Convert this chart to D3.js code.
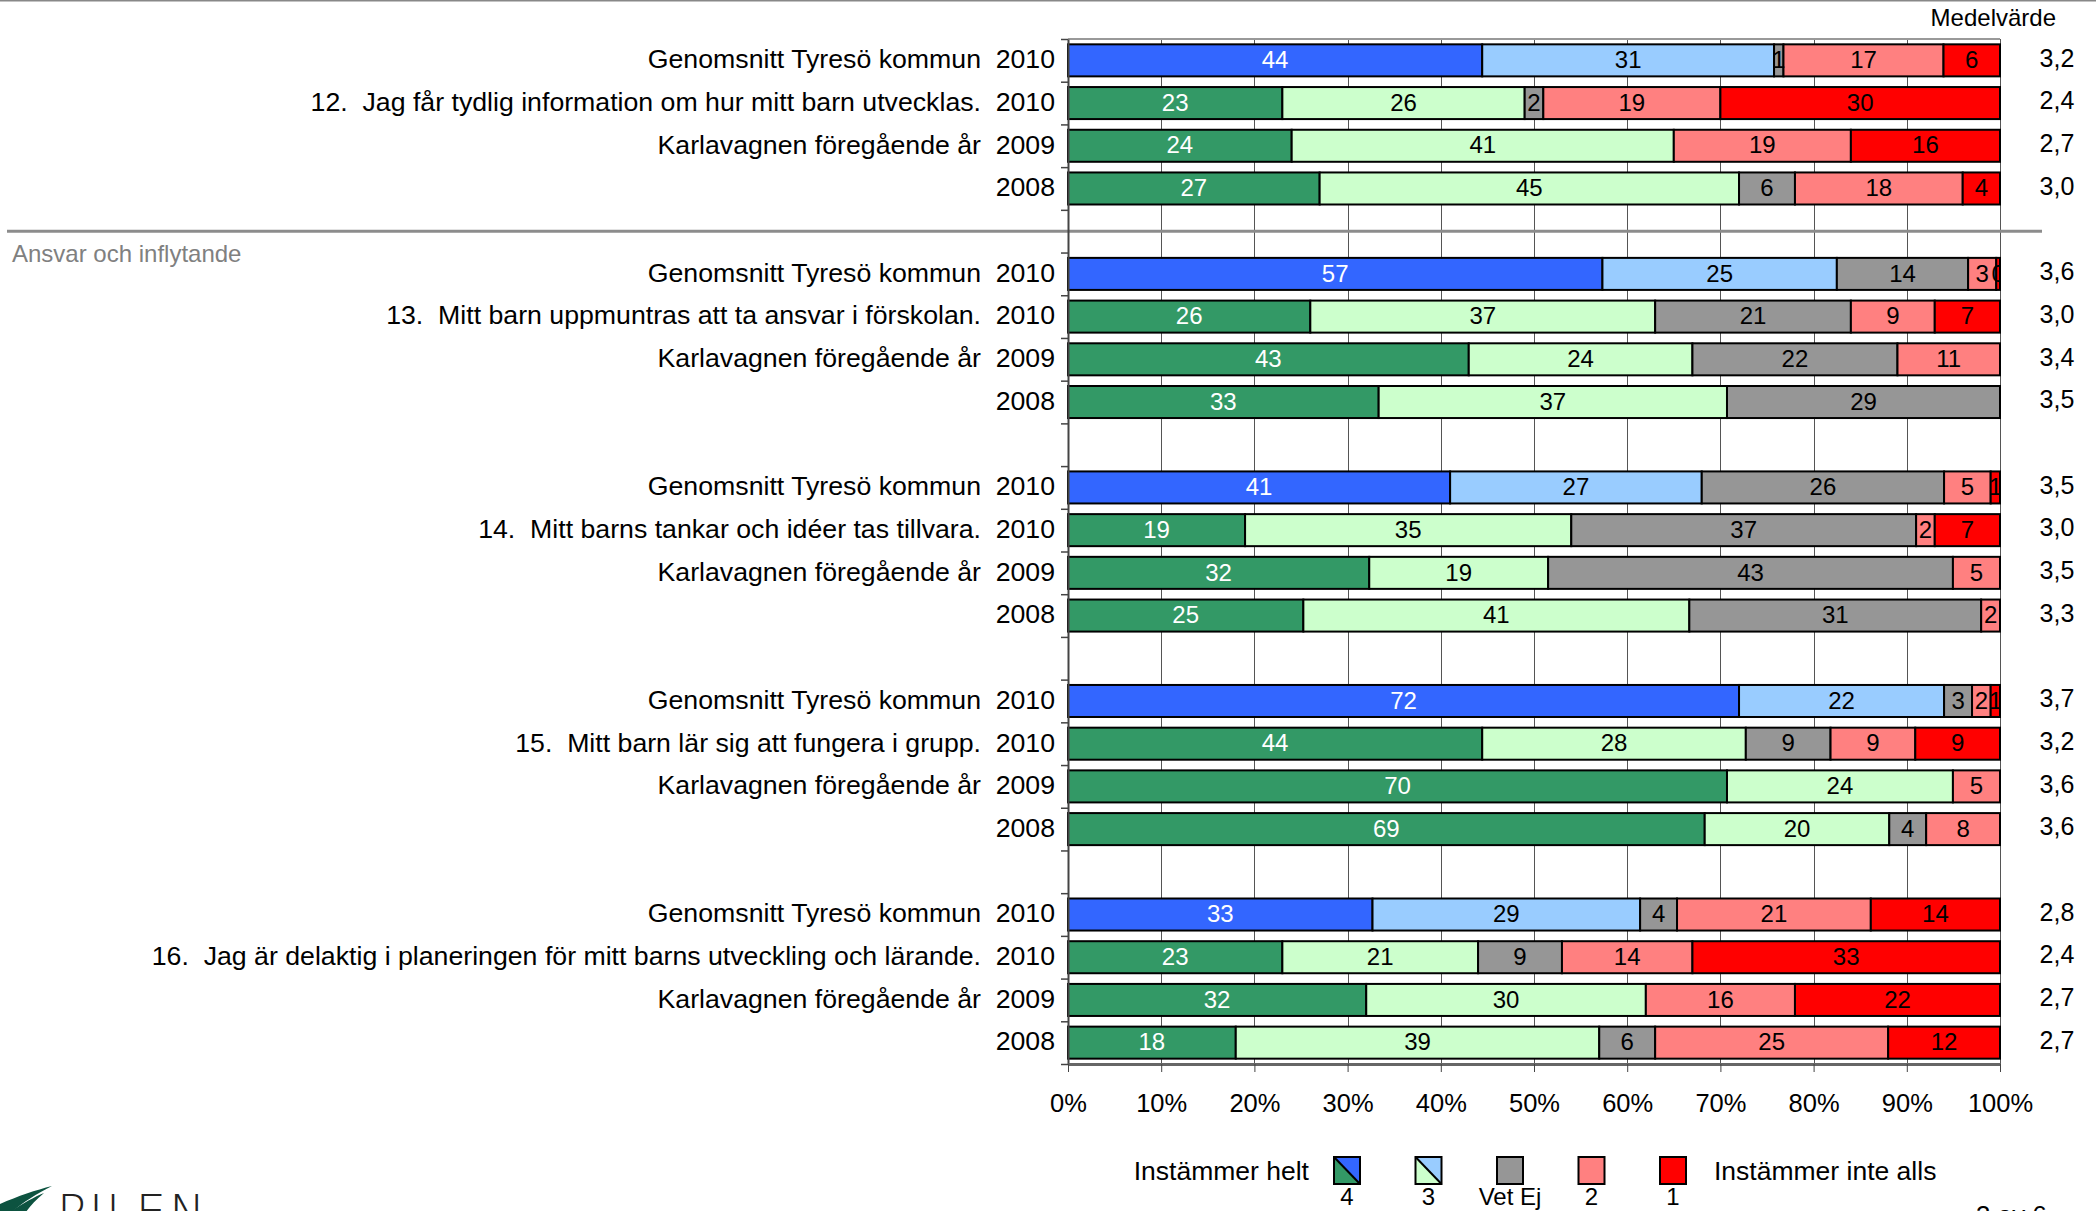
<!DOCTYPE html>
<html>
<head>
<meta charset="utf-8">
<script src="https://cdn.jsdelivr.net/npm/d3@7"></script>
<style>
  body { margin: 0; background: #fff; }
  svg { display: block; font-family: "Liberation Sans", Arial, sans-serif; }
  .keep { white-space: pre; }
</style>
</head>
<body>
<div id="vis"></div>
<script>
// answer order inside every bar: 4, 3, Vet Ej, 2, 1
var answerKeys = ["4", "3", "Vet Ej", "2", "1"];
var rowNames = ["Genomsnitt Tyresö kommun", null, "Karlavagnen föregående år", ""];
var years = ["2010", "2010", "2009", "2008"];
var questions = [
  "12.  Jag får tydlig information om hur mitt barn utvecklas.",
  "13.  Mitt barn uppmuntras att ta ansvar i förskolan.",
  "14.  Mitt barns tankar och idéer tas tillvara.",
  "15.  Mitt barn lär sig att fungera i grupp.",
  "16.  Jag är delaktig i planeringen för mitt barns utveckling och lärande."
];

// percentages per row (Tyresö 2010, förskolan 2010, 2009, 2008)
var q12 = [[44, 31, 1, 17, 6], [23, 26, 2, 19, 30], [24, 41, 0, 19, 16], [27, 45, 6, 18, 4]];
var q13 = [[57, 25, 14, 3, 0.4], [26, 37, 21, 9, 7], [43, 24, 22, 11, 0], [33, 37, 29, 0, 0]];
var q14 = [[41, 27, 26, 5, 1], [19, 35, 37, 2, 7], [32, 19, 43, 5, 0], [25, 41, 31, 2, 0]];
var q15 = [[72, 22, 3, 2, 1], [44, 28, 9, 9, 9], [70, 24, 0, 5, 0], [69, 20, 4, 8, 0]];
var q16 = [[33, 29, 4, 21, 14], [23, 21, 9, 14, 33], [32, 30, 0, 16, 22], [18, 39, 6, 25, 12]];

var m12 = ["3,2", "2,4", "2,7", "3,0"];
var m13 = ["3,6", "3,0", "3,4", "3,5"];
var m14 = ["3,5", "3,0", "3,5", "3,3"];
var m15 = ["3,7", "3,2", "3,6", "3,6"];
var m16 = ["2,8", "2,4", "2,7", "2,7"];

var xTicks = d3.range(0, 11).map(function (d) { return d / 10; });

var allValues = [q12, q13, q14, q15, q16];
var allMeans = [m12, m13, m14, m15, m16];

// colours: municipality rows use blue, own preschool rows green
var kommunColors = ["#3366ff", "#99ccff", "#969696", "#ff8080", "#ff0000"];
var ownColors = ["#339966", "#ccffcc", "#969696", "#ff8080", "#ff0000"];
var labelColors = ["#fff", "#000", "#000", "#000", "#000"];

var width = 2096;
var height = 1211;
var plotTop = 39, plotBottom = 1064;
var plotLeft = 1068, plotRight = 2000;
var slotCount = 24;

// build rows (one empty slot between questions)
var rows = [];
for (var q = 0; q < questions.length; q++) {
  for (var r = 0; r < 4; r++) {
    var vals = allValues[q][r];
    var total = d3.sum(vals);
    var cum = 0;
    var segs = vals.map(function (v, i) {
      var s = { key: answerKeys[i], value: v, x0: cum / total, x1: (cum + v) / total, i: i };
      cum += v;
      return s;
    });
    rows.push({
      slot: q * 5 + r,
      name: r === 1 ? questions[q] : rowNames[r],
      year: years[r],
      mean: allMeans[q][r],
      kommun: r === 0,
      segs: segs
    });
  }
}

var x = d3.scaleLinear().domain([0, 1]).range([plotLeft, plotRight]);
var y = d3.scaleBand()
  .domain(d3.range(slotCount))
  .range([plotTop, plotBottom])
  .paddingInner(0.25)
  .paddingOuter(0.125);
var yEdge = d3.scaleLinear().domain([0, slotCount]).range([plotTop, plotBottom]);

var svg = d3.select('#vis').append('svg')
  .attr('width', width)
  .attr('height', height);

// page line at the very top
svg.append('line')
  .attr('x1', 0).attr('x2', width)
  .attr('y1', 0.5).attr('y2', 0.5)
  .attr('stroke', '#888').attr('stroke-width', 2);

svg.append('defs').append('clipPath').attr('id', 'plotclip')
  .append('rect')
  .attr('x', plotLeft).attr('y', plotTop)
  .attr('width', plotRight - plotLeft + 1).attr('height', plotBottom - plotTop);

// vertical gridlines
svg.append('g').selectAll('line')
  .data(xTicks)
  .enter().append('line')
  .attr('x1', function (d) { return Math.round(x(d)) + 0.5; })
  .attr('x2', function (d) { return Math.round(x(d)) + 0.5; })
  .attr('y1', plotTop)
  .attr('y2', plotBottom)
  .attr('stroke', '#555')
  .attr('stroke-width', 1);

// top border of plot area
svg.append('line')
  .attr('x1', plotLeft).attr('x2', plotRight)
  .attr('y1', plotTop).attr('y2', plotTop)
  .attr('stroke', '#999').attr('stroke-width', 2);

// section separator
svg.append('line')
  .attr('x1', 7).attr('x2', 2042)
  .attr('y1', yEdge(4.5)).attr('y2', yEdge(4.5))
  .attr('stroke', '#8c8c8c').attr('stroke-width', 3);

svg.append('text')
  .attr('x', 12)
  .attr('y', 254)
  .attr('dy', '0.33em')
  .attr('font-size', 24)
  .attr('fill', '#808080')
  .text('Ansvar och inflytande');

// bars
var rowG = svg.append('g').selectAll('g.row')
  .data(rows)
  .enter().append('g')
  .attr('class', 'row')
  .attr('transform', function (d) { return 'translate(0,' + y(d.slot) + ')'; });

rowG.selectAll('rect')
  .data(function (d) {
    return d.segs.filter(function (s) { return s.value > 0; })
      .map(function (s) { s.kommun = d.kommun; return s; });
  })
  .enter().append('rect')
  .attr('x', function (s) { return x(s.x0); })
  .attr('width', function (s) { return x(s.x1) - x(s.x0); })
  .attr('y', 0)
  .attr('height', y.bandwidth())
  .attr('fill', function (s) { return s.kommun ? kommunColors[s.i] : ownColors[s.i]; })
  .attr('stroke', '#000')
  .attr('stroke-width', 2);

rowG.append('g')
  .attr('clip-path', 'url(#plotclip)')
  .attr('transform', function (d) { return 'translate(0,' + (-y(d.slot)) + ')'; })
  .selectAll('text')
  .data(function (d) {
    return d.segs.filter(function (s) { return s.value > 0; })
      .map(function (s) { s.slot = d.slot; return s; });
  })
  .enter().append('text')
  .attr('x', function (s) { return (x(s.x0) + x(s.x1)) / 2; })
  .attr('y', function (s) { return y(s.slot) + y.bandwidth() / 2; })
  .attr('dy', '0.32em')
  .attr('text-anchor', 'middle')
  .attr('font-size', 24)
  .attr('fill', function (s) { return labelColors[s.i]; })
  .text(function (s) { return d3.format('.0f')(s.value); });

// row labels
rowG.append('text')
  .attr('class', 'keep')
  .attr('x', 981)
  .attr('y', y.bandwidth() / 2 - 1)
  .attr('dy', '0.33em')
  .attr('text-anchor', 'end')
  .attr('font-size', 26.7)
  .text(function (d) { return d.name; });

rowG.append('text')
  .attr('x', 1055)
  .attr('y', y.bandwidth() / 2 - 1)
  .attr('dy', '0.33em')
  .attr('text-anchor', 'end')
  .attr('font-size', 26.7)
  .text(function (d) { return d.year; });

// mean values
rowG.append('text')
  .attr('x', 2057)
  .attr('y', y.bandwidth() / 2 - 2)
  .attr('dy', '0.33em')
  .attr('text-anchor', 'middle')
  .attr('font-size', 25)
  .text(function (d) { return d.mean; });

svg.append('text')
  .attr('x', 2056)
  .attr('y', 18)
  .attr('dy', '0.33em')
  .attr('text-anchor', 'end')
  .attr('font-size', 24)
  .text('Medelvärde');

// y axis with ticks at slot edges
var yAxis = svg.append('g')
  .attr('transform', 'translate(' + plotLeft + ',0)')
  .call(d3.axisLeft(yEdge).tickValues(d3.range(0, slotCount + 1)).tickFormat('').tickSize(7).tickSizeOuter(0));
yAxis.select('.domain').attr('stroke', '#444').attr('stroke-width', 2);
yAxis.selectAll('.tick line').attr('stroke', '#444').attr('stroke-width', 1.5);

// x axis
var xAxis = svg.append('g')
  .attr('transform', 'translate(0,' + plotBottom + ')')
  .call(d3.axisBottom(x).tickValues(xTicks).tickFormat(d3.format('.0%')).tickSize(8).tickPadding(22).tickSizeOuter(0));
xAxis.select('.domain').attr('stroke', '#666').attr('stroke-width', 3);
xAxis.selectAll('.tick line').attr('stroke', '#444');
xAxis.selectAll('.tick text')
  .attr('font-size', 25.5)
  .attr('font-family', '"Liberation Sans", Arial, sans-serif')
  .attr('fill', '#000');

// legend
var legendY = 1157;
var legendX = d3.scalePoint().domain(answerKeys).range([1347, 1673]);
var lg = svg.append('g');

lg.append('text')
  .attr('x', 1309).attr('y', 1171)
  .attr('dy', '0.33em')
  .attr('text-anchor', 'end')
  .attr('font-size', 26.5)
  .text('Instämmer helt');

lg.append('text')
  .attr('x', 1714).attr('y', 1171)
  .attr('dy', '0.33em')
  .attr('font-size', 26.5)
  .text('Instämmer inte alls');

var item = lg.selectAll('g.item')
  .data(answerKeys)
  .enter().append('g')
  .attr('class', 'item')
  .attr('transform', function (d) { return 'translate(' + (legendX(d) - 13) + ',' + legendY + ')'; });

item.each(function (d, i) {
  var it = d3.select(this);
  if (i < 2) {
    // split box: own preschool colour bottom-left, municipality colour top-right
    it.append('path').attr('d', 'M0,0 L0,27 L26,27 Z').attr('fill', ownColors[i]);
    it.append('path').attr('d', 'M0,0 L26,0 L26,27 Z').attr('fill', kommunColors[i]);
    it.append('line').attr('x1', 0).attr('y1', 0).attr('x2', 26).attr('y2', 27)
      .attr('stroke', '#000').attr('stroke-width', 2);
  } else {
    it.append('rect').attr('width', 26).attr('height', 27).attr('fill', ownColors[i]);
  }
  it.append('rect').attr('width', 26).attr('height', 27)
    .attr('fill', 'none').attr('stroke', '#000').attr('stroke-width', 2);
});

item.append('text')
  .attr('x', 13)
  .attr('y', 48)
  .attr('text-anchor', 'middle')
  .attr('font-size', 24)
  .text(function (d) { return d; });

// footer: logo and page number (cut by page edge, as in the source page)
var logo = svg.append('g');
logo.append('path')
  .attr('d', 'M0,1204 C18,1196 36,1190 52,1186 C36,1194 22,1203 12,1212 L0,1212 Z')
  .attr('fill', '#0d5340');
logo.append('path')
  .attr('d', 'M10,1212 C22,1204 34,1197 44,1193 C36,1200 30,1206 26,1212 Z')
  .attr('fill', '#0d5340');
logo.append('text')
  .attr('x', 57).attr('y', 1229)
  .attr('font-size', 48)
  .attr('font-weight', 300)
  .attr('letter-spacing', 3)
  .attr('fill', '#222')
  .attr('font-family', '"DejaVu Sans", sans-serif')
  .style('font-stretch', 'condensed')
  .text('PILEN');

svg.append('text')
  .attr('x', 1976).attr('y', 1224)
  .attr('font-size', 26)
  .text('3 av 6');
</script>
</body>
</html>
